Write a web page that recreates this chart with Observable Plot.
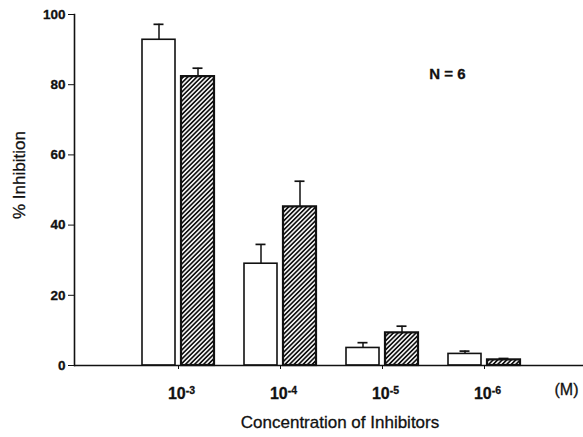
<!DOCTYPE html>
<html><head><meta charset="utf-8">
<script src="https://cdn.jsdelivr.net/npm/d3@7"></script>
<script src="https://cdn.jsdelivr.net/npm/@observablehq/plot@0.6"></script>
<style>
body{margin:0;background:#fff}
#chart svg{font-family:"Liberation Sans",Arial,sans-serif;background:#fff}
#chart svg text{stroke:#111;stroke-width:0.3px}
</style>
</head><body><div id="chart"></div>
<script>
const concentrations = ["-3", "-4", "-5", "-6"];
const openValues = [92.8, 29.0, 5.0, 3.3];
const openErrors = [4.4, 5.5, 1.5, 0.8];
const hatchedValues = [82.3, 45.2, 9.3, 1.6];
const hatchedErrors = [2.4, 7.3, 1.9, 0.4];
const yTicks = [0, 20, 40, 60, 80, 100];
const yLabel = "% Inhibition";
const xLabel = "Concentration of Inhibitors";
const unitLabel = "(M)";
const note = "N = 6";

const openRows = concentrations.map((c, i) => ({conc: c, value: openValues[i], top: openValues[i] + openErrors[i]}));
const hatchedRows = concentrations.map((c, i) => ({conc: c, value: hatchedValues[i], top: hatchedValues[i] + hatchedErrors[i]}));

const chart = Plot.plot({
  width: 583,
  height: 437,
  marginLeft: 74,
  marginRight: 0,
  marginTop: 14,
  marginBottom: 72,
  style: {fontFamily: '"Liberation Sans", Arial, sans-serif', fontSize: "14px", color: "#111"},
  x: {type: "band", domain: concentrations, range: [127, 535], padding: 0},
  y: {domain: [0, 100]},
  marks: [
    Plot.ruleX(openRows, {x: "conc", y1: "value", y2: "top", dx: -19.5, strokeWidth: 1.5}),
    Plot.tickY(openRows, {x: "conc", y: "top", insetLeft: 26.5, insetRight: 65.5, strokeWidth: 1.7}),
    Plot.ruleX(hatchedRows, {x: "conc", y1: "value", y2: "top", dx: 19.5, strokeWidth: 1.5}),
    Plot.tickY(hatchedRows, {x: "conc", y: "top", insetLeft: 65.5, insetRight: 26.5, strokeWidth: 1.7}),
    Plot.barY(openRows, {x: "conc", y: "value", fill: "white", stroke: "#111", strokeWidth: 1.6, insetLeft: 15, insetRight: 54}),
    Plot.barY(hatchedRows, {x: "conc", y: "value", fill: "url(#hatch)", stroke: "#111", strokeWidth: 2.2, insetLeft: 54, insetRight: 15}),
    Plot.ruleY([0], {strokeWidth: 1.6}),
    Plot.frame({anchor: "left", strokeWidth: 1.6}),
    Plot.axisY({ticks: yTicks, tickSize: 6, tickPadding: 3, label: null, fontSize: 13.5, fontWeight: "bold"}),
    Plot.axisX({tickSize: 4, tickPadding: 18, label: null, fontSize: 16, fontWeight: "bold", tickFormat: d => "10" + d}),
    Plot.text([yLabel], {frameAnchor: "left", rotate: -90, dx: -55, dy: 29, fontSize: 17}),
    Plot.text([xLabel], {frameAnchor: "bottom", dx: 11, dy: 62, fontSize: 17}),
    Plot.text([unitLabel], {frameAnchor: "bottom-right", textAnchor: "end", dx: -5, dy: 29, fontSize: 16}),
    Plot.text([note], {frameAnchor: "top-right", dx: -118, dy: 54, fontSize: 15, fontWeight: "bold"})
  ]
});

document.getElementById("chart").appendChild(chart);

const svg = d3.select(chart);
const defs = svg.insert("defs", ":first-child");
const pat = defs.append("pattern")
  .attr("id", "hatch")
  .attr("patternUnits", "userSpaceOnUse")
  .attr("width", 3.2)
  .attr("height", 3.2)
  .attr("patternTransform", "rotate(45)");
pat.append("rect").attr("width", 3.2).attr("height", 3.2).attr("fill", "white");
pat.append("line").attr("x1", 1.6).attr("y1", 0).attr("x2", 1.6).attr("y2", 3.2)
  .attr("stroke", "#111").attr("stroke-width", 1.7);

svg.selectAll('[aria-label="x-axis tick label"] text').each(function () {
  const t = d3.select(this);
  const s = t.text();
  const exp = s.slice(2);
  t.text(null).attr("dx", 3);
  t.append("tspan").text("10");
  t.append("tspan").attr("dy", "-0.45em").attr("font-size", "10.5px").text(exp);
});
</script>
</body></html>
